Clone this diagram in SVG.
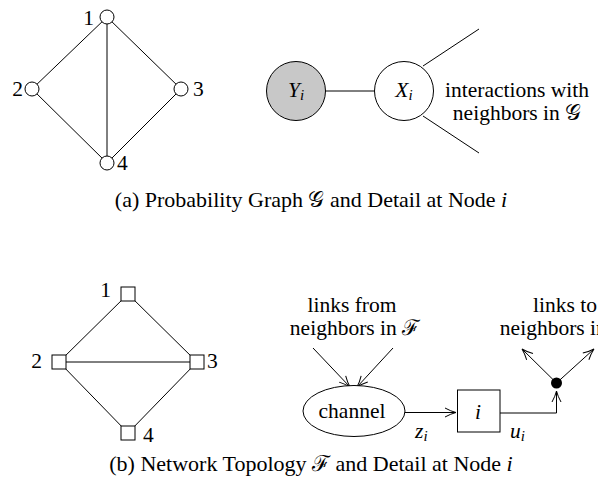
<svg xmlns="http://www.w3.org/2000/svg" width="598" height="483" viewBox="0 0 598 483">
<defs>
<marker id="ar" markerUnits="userSpaceOnUse" markerWidth="14" markerHeight="12" viewBox="-12 -6 14 12" refX="0" refY="0" orient="auto">
<path d="M-11,-4.5 Q-5,-1.2 0,0 Q-5,1.2 -11,4.5" fill="none" stroke="#000" stroke-width="1"/>
</marker>
</defs>
<rect width="598" height="483" fill="#fff"/>
<g id="connectors" stroke="#000" stroke-width="1" fill="none">
<line x1="107" y1="17" x2="32" y2="89"/>
<line x1="107" y1="17" x2="181" y2="89"/>
<line x1="107" y1="17" x2="107" y2="163"/>
<line x1="32" y1="89" x2="107" y2="163"/>
<line x1="181" y1="89" x2="107" y2="163"/>
<line x1="325" y1="91" x2="375" y2="91"/>
<line x1="423" y1="66" x2="479" y2="29"/>
<line x1="423" y1="116" x2="479" y2="153"/>
<line x1="128" y1="294" x2="59" y2="362"/>
<line x1="128" y1="294" x2="197" y2="362"/>
<line x1="59" y1="362" x2="197" y2="362"/>
<line x1="59" y1="362" x2="128" y2="433"/>
<line x1="197" y1="362" x2="128" y2="433"/>
<line x1="313" y1="348" x2="350" y2="387" marker-end="url(#ar)"/>
<line x1="393" y1="348" x2="357" y2="387" marker-end="url(#ar)"/>
<line x1="405" y1="412.5" x2="456" y2="412.5" marker-end="url(#ar)"/>
<polyline points="500,413 556.5,413 556.5,391" marker-end="url(#ar)"/>
<line x1="556.5" y1="383" x2="522" y2="349" marker-end="url(#ar)"/>
<line x1="556.5" y1="383" x2="594" y2="349" marker-end="url(#ar)"/>
</g>
<g font-family="Liberation Serif" font-size="21.5" fill="#000">
<g id="g1"><circle cx="107" cy="17" r="7" fill="#fff" stroke="#000"/><text text-anchor="end" x="94" y="25">1</text></g>
<g id="g2"><circle cx="32" cy="89" r="7" fill="#fff" stroke="#000"/><text text-anchor="end" x="23" y="96">2</text></g>
<g id="g3"><circle cx="181" cy="89" r="7" fill="#fff" stroke="#000"/><text x="193" y="96">3</text></g>
<g id="g4"><circle cx="107" cy="163" r="7" fill="#fff" stroke="#000"/><text x="117" y="170">4</text></g>
<g id="Yi"><circle cx="296" cy="91" r="29.5" fill="#c8c8c8" stroke="#000"/><text text-anchor="middle" x="296" y="97"><tspan font-style="italic">Y</tspan><tspan font-size="15" font-style="italic" dy="3">i</tspan></text></g>
<g id="Xi"><circle cx="404" cy="91" r="29.5" fill="#fff" stroke="#000"/><text text-anchor="middle" x="404" y="97"><tspan font-style="italic">X</tspan><tspan font-size="15" font-style="italic" dy="3">i</tspan></text></g>
<g id="interactions"><text text-anchor="middle" x="517" y="97">interactions with</text><text text-anchor="middle" x="517" y="120">neighbors in 𝒢</text></g>
<text font-size="22" text-anchor="middle" x="311" y="207">(a) Probability Graph 𝒢 and Detail at Node <tspan font-style="italic">i</tspan></text>
<g id="s1"><rect x="121" y="287" width="14" height="14" fill="#fff" stroke="#000"/><text text-anchor="end" x="111" y="297">1</text></g>
<g id="s2"><rect x="52" y="355" width="14" height="14" fill="#fff" stroke="#000"/><text text-anchor="end" x="42" y="368">2</text></g>
<g id="s3"><rect x="190" y="355" width="14" height="14" fill="#fff" stroke="#000"/><text x="207" y="368">3</text></g>
<g id="s4"><rect x="121" y="426" width="14" height="14" fill="#fff" stroke="#000"/><text x="143" y="442">4</text></g>
<g id="from"><text text-anchor="middle" x="352" y="312">links from</text><text text-anchor="middle" x="355" y="335">neighbors in ℱ</text></g>
<g id="channel"><ellipse cx="354" cy="411" rx="51" ry="25.5" fill="#fff" stroke="#000"/><text text-anchor="middle" x="352" y="418">channel</text></g>
<g id="nodei"><rect x="457.5" y="390" width="42.5" height="42" fill="#fff" stroke="#000"/><text font-style="italic" text-anchor="middle" x="478" y="419">i</text></g>
<text font-style="italic" x="415" y="438">z<tspan font-size="15" dy="3">i</tspan></text>
<text font-style="italic" x="510" y="438">u<tspan font-size="15" dy="3">i</tspan></text>
<g id="dot"><circle cx="556.5" cy="383" r="5.5" fill="#000"/></g>
<g id="to"><text text-anchor="middle" x="565" y="312">links to</text><text text-anchor="middle" x="565" y="335">neighbors in ℱ</text></g>
<text font-size="22" text-anchor="middle" x="311" y="471">(b) Network Topology ℱ and Detail at Node <tspan font-style="italic">i</tspan></text>
</g>
</svg>
